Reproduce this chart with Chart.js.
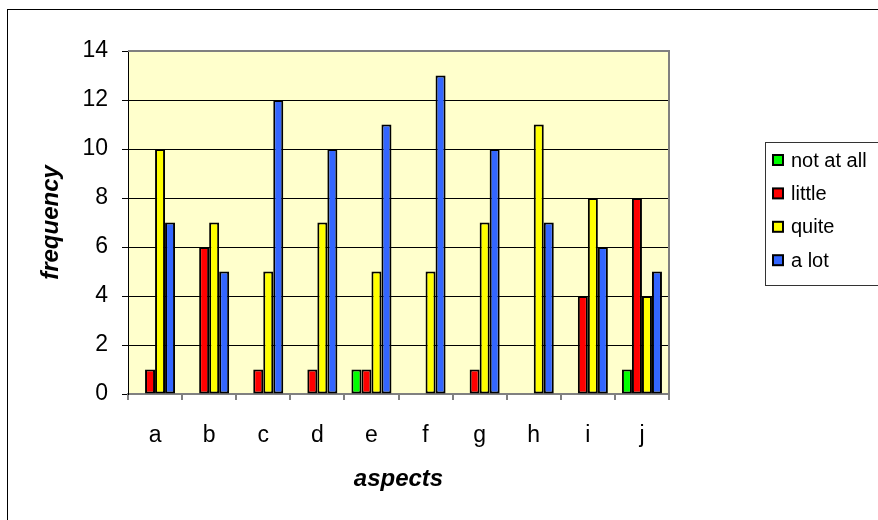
<!DOCTYPE html>
<html>
<head>
<meta charset="utf-8">
<script src="https://cdn.jsdelivr.net/npm/chart.js@4"></script>
<style>
  html, body { margin: 0; padding: 0; background: #fff; }
  #wrap { width: 878px; height: 520px; }
</style>
</head>
<body>
<div id="wrap"><canvas id="chart" width="878" height="520"></canvas></div>
<script>
  const aspects = ['a', 'b', 'c', 'd', 'e', 'f', 'g', 'h', 'i', 'j'];
  const seriesNames = ['not at all', 'little', 'quite', 'a lot'];
  const notAtAll = [0, 0, 0, 0, 1, 0, 0, 0, 0, 1];
  const little   = [1, 6, 1, 1, 1, 0, 1, 0, 4, 8];
  const quite    = [10, 7, 5, 7, 5, 5, 7, 11, 8, 4];
  const aLot     = [7, 5, 12, 10, 11, 13, 10, 7, 6, 5];
  const yMin = 0, yMax = 14, yStep = 2;

  const colors = ['#00ff00', '#ff0000', '#ffff00', '#3366ff'];
  const FONT = 'Arial, "Liberation Sans", sans-serif';

  // plot background, plot border, outer frame and legend
  const frame = {
    id: 'frame',
    beforeDraw(chart) {
      const { ctx, chartArea: a } = chart;
      ctx.save();
      ctx.fillStyle = '#ffffcc';
      ctx.fillRect(a.left, a.top, a.right - a.left, a.bottom - a.top);
      ctx.restore();
    },
    beforeDatasetsDraw(chart) {
      const { ctx, chartArea: a } = chart;
      ctx.save();
      ctx.strokeStyle = '#808080';
      ctx.lineWidth = 2;
      ctx.beginPath();
      ctx.moveTo(a.left, a.top);
      ctx.lineTo(a.right, a.top);
      ctx.lineTo(a.right, a.bottom);
      ctx.stroke();
      ctx.restore();
    },
    afterDraw(chart) {
      const { ctx } = chart;
      ctx.save();
      ctx.strokeStyle = '#000';
      ctx.lineWidth = 1;
      ctx.strokeRect(7.5, 9.5, 900, 540);

      // legend
      ctx.strokeStyle = '#333';
      ctx.strokeRect(765.5, 142.5, 200, 143);
      ctx.font = '20px ' + FONT;
      ctx.textBaseline = 'middle';
      chart.data.datasets.forEach((ds, i) => {
        const cy = 160 + i * 33.4;
        ctx.fillStyle = ds.backgroundColor;
        ctx.fillRect(773, cy - 5, 10, 10);
        ctx.lineWidth = 2;
        ctx.strokeStyle = '#000';
        ctx.strokeRect(773, cy - 5, 10, 10);
        ctx.fillStyle = '#000';
        ctx.fillText(ds.label, 791, cy + 1);
      });
      ctx.restore();
    }
  };

  const mkSet = (label, data, i) => ({
    label: label,
    data: data,
    backgroundColor: colors[i],
    borderColor: '#000',
    borderWidth: c => (c.raw === 0 ? 0 : 2),
    borderSkipped: false,
    categoryPercentage: 0.74,
    barPercentage: 1
  });

  new Chart(document.getElementById('chart'), {
    type: 'bar',
    data: {
      labels: aspects,
      datasets: [
        mkSet(seriesNames[0], notAtAll, 0),
        mkSet(seriesNames[1], little, 1),
        mkSet(seriesNames[2], quite, 2),
        mkSet(seriesNames[3], aLot, 3)
      ]
    },
    options: {
      responsive: false,
      animation: false,
      layout: { padding: { top: 51, right: 209, left: 0, bottom: 0 } },
      plugins: {
        legend: { display: false },
        tooltip: { enabled: false }
      },
      scales: {
        x: {
          afterFit: s => { s.height = 126; },
          grid: {
            offset: true,
            drawOnChartArea: false,
            tickLength: 6,
            color: '#808080',
            lineWidth: 2
          },
          border: { color: '#808080', width: 2 },
          ticks: { color: '#000', font: { family: FONT, size: 23 }, padding: 22 },
          title: {
            display: true,
            text: 'aspects',
            color: '#000',
            font: { family: FONT, size: 24, weight: 'bold', style: 'italic' },
            padding: { bottom: 26 }
          }
        },
        y: {
          min: yMin,
          max: yMax,
          afterFit: s => { s.width = 128; },
          grid: { color: '#000', tickColor: '#000', tickLength: 6, lineWidth: 1 },
          border: { color: '#000', width: 1 },
          ticks: {
            stepSize: yStep,
            color: '#000',
            font: { family: FONT, size: 23 },
            padding: 14
          },
          title: {
            display: true,
            text: 'frequency',
            color: '#000',
            font: { family: FONT, size: 24, weight: 'bold', style: 'italic' },
            padding: { top: 37 }
          }
        }
      }
    },
    plugins: [frame]
  });
</script>
</body>
</html>
